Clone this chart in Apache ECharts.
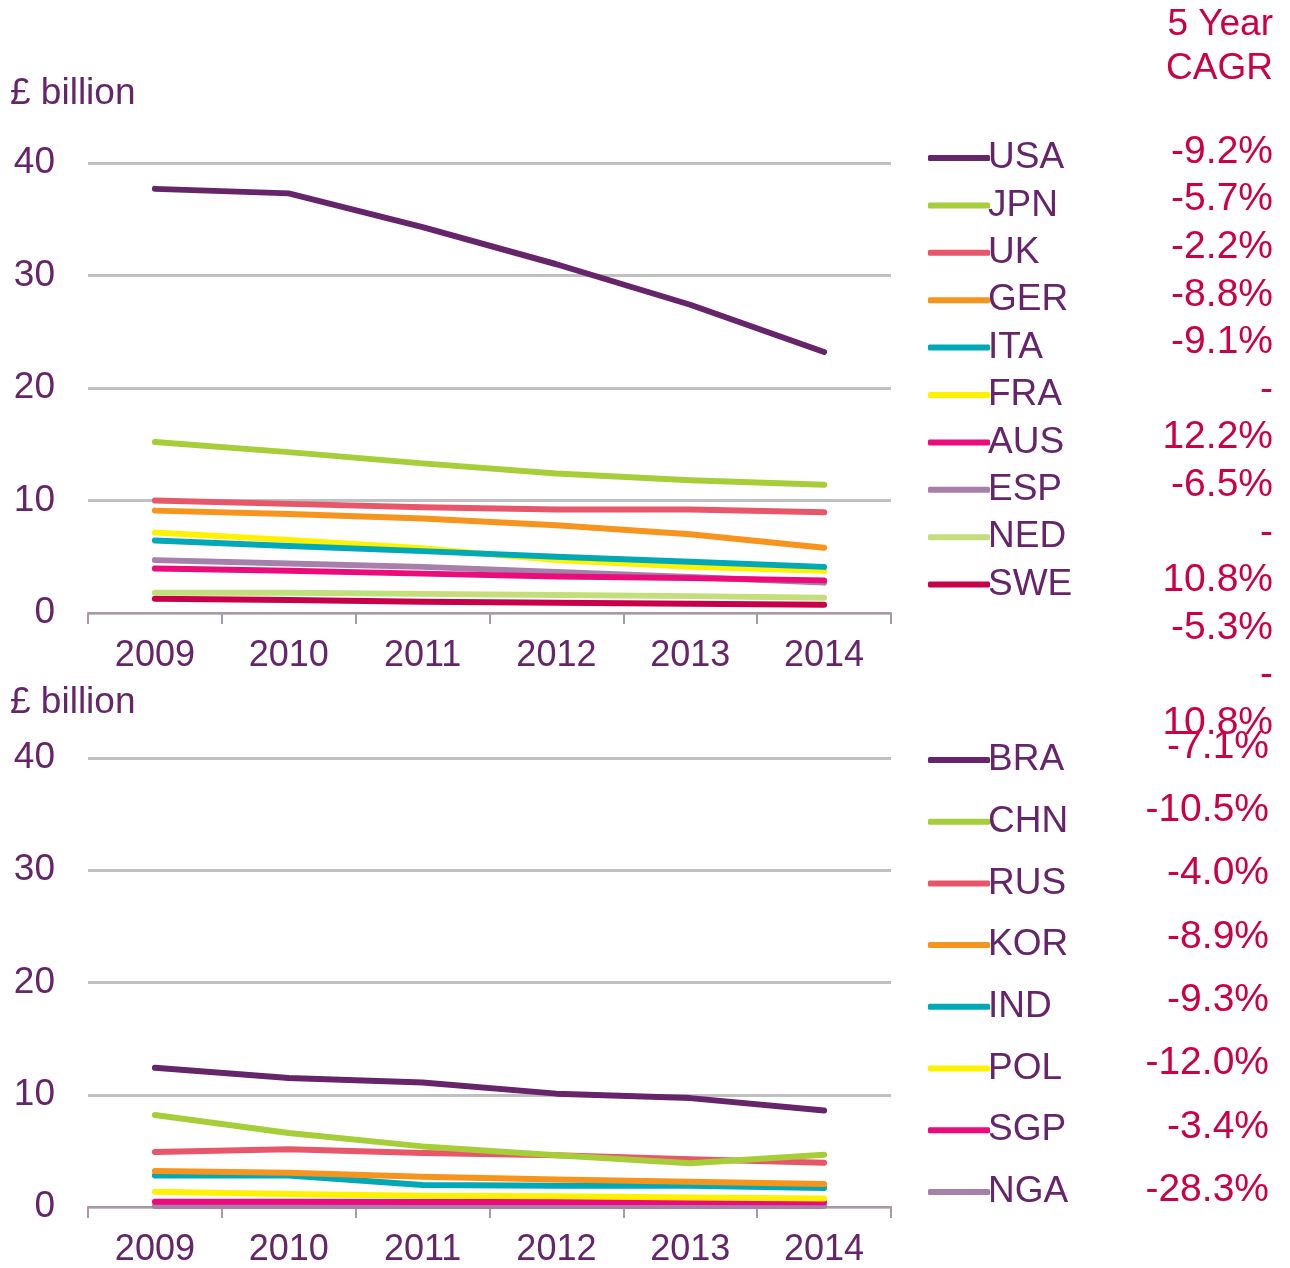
<!DOCTYPE html>
<html>
<head>
<meta charset="utf-8">
<script src="https://cdn.jsdelivr.net/npm/echarts@6/dist/echarts.min.js"></script>
<style>
html,body{margin:0;padding:0;background:#fff;}
#c{width:1290px;height:1268px;}
</style>
</head>
<body>
<div id="c"></div>
<script>
// ---- data ----
const years = ['2009','2010','2011','2012','2013','2014'];
const yTicks = [0, 10, 20, 30, 40];

const topNames = ['USA','JPN','UK','GER','ITA','FRA','AUS','ESP','NED','SWE'];
const USA = [37.7, 37.3, 34.3, 31.0, 27.4, 23.2];
const JPN = [15.2, 14.3, 13.3, 12.4, 11.8, 11.4];
const UK  = [10.0, 9.7, 9.4, 9.2, 9.2, 8.95];
const GER = [9.1, 8.8, 8.4, 7.8, 7.0, 5.8];
const ITA = [6.45, 5.95, 5.5, 5.0, 4.55, 4.1];
const FRA = [7.15, 6.5, 5.75, 4.7, 4.1, 3.75];
const AUS = [3.95, 3.75, 3.5, 3.25, 3.1, 2.9];
const ESP = [4.7, 4.4, 4.1, 3.65, 3.2, 2.7];
const NED = [1.8, 1.8, 1.7, 1.6, 1.5, 1.35];
const SWE = [1.27, 1.15, 1.0, 0.92, 0.83, 0.74];

const bottomNames = ['BRA','CHN','RUS','KOR','IND','POL','SGP','NGA'];
const BRA = [12.4, 11.5, 11.1, 10.1, 9.7, 8.6];
const CHN = [8.2, 6.6, 5.4, 4.6, 3.9, 4.65];
const RUS = [4.9, 5.15, 4.8, 4.6, 4.25, 3.95];
const KOR = [3.2, 3.05, 2.7, 2.45, 2.25, 2.05];
const IND = [2.8, 2.8, 1.95, 1.9, 1.9, 1.7];
const POL = [1.35, 1.15, 1.0, 0.95, 0.85, 0.75];
const SGP = [0.47, 0.46, 0.45, 0.45, 0.44, 0.43];
const NGA = [0.1, 0.1, 0.1, 0.1, 0.1, 0.1];

const cagrTop = ['-9.2%','-5.7%','-2.2%','-8.8%','-9.1%','-','12.2%','-6.5%','-','10.8%','-5.3%','-','10.8%'];
const cagrBottom = ['-7.1%','-10.5%','-4.0%','-8.9%','-9.3%','-12.0%','-3.4%','-28.3%'];
const cagrHeader = ['5 Year','CAGR'];
const unitLabel = '£ billion';

// ---- styles ----
const palette = ['#66246a','#a6ce39','#e8566a','#f7941d','#00a9b5','#fff200','#ec0b7a','#a67faa','#c3de7a','#c8004a'];
const textPurple = '#66246a';
const cagrColor = '#cc0044';
const FONT = 'Liberation Sans, Arial, sans-serif';

const topData = {USA, JPN, UK, GER, ITA, FRA, AUS, ESP, NED, SWE};
const bottomData = {BRA, CHN, RUS, KOR, IND, POL, SGP, NGA};

const grids = [
  {left: 88, right: 399, top: 163, height: 450},
  {left: 88, right: 399, top: 758, height: 450}
];

function xAxis(i){
  return {
    type:'category', gridIndex:i, data: years, boundaryGap:true,
    axisLine:{lineStyle:{color:'#a898a8', width:2}},
    axisTick:{show:true, length:11, inside:false, lineStyle:{color:'#a898a8', width:2}},
    axisLabel:{color:textPurple, fontSize:36, fontFamily:FONT, margin:25}
  };
}
function yAxis(i){
  return {
    type:'value', gridIndex:i, min:0, max:40, interval:10,
    axisLine:{show:false}, axisTick:{show:false},
    splitLine:{lineStyle:{color:'#c0c0c0', width:3}},
    axisLabel:{color:textPurple, fontSize:37, fontFamily:FONT, margin:33}
  };
}

const series = [];
topNames.forEach((n, k) => {
  series.push({name:n, type:'line', xAxisIndex:0, yAxisIndex:0, data: topData[n],
    symbol:'none', color: palette[k], lineStyle:{width:6, color: palette[k], cap:'round', join:'round'},
    z: 20 - k});
});
bottomNames.forEach((n, k) => {
  series.push({name:n, type:'line', xAxisIndex:1, yAxisIndex:1, data: bottomData[n],
    symbol:'none', color: palette[k], lineStyle:{width:6, color: palette[k], cap:'round', join:'round'},
    z: 20 - k});
});

const graphics = [];
graphics.push({type:'text', x:10, y:94, style:{text:unitLabel, fill:textPurple, fontSize:37, fontFamily:FONT, verticalAlign:'middle'}});
graphics.push({type:'text', x:10, y:703, style:{text:unitLabel, fill:textPurple, fontSize:37, fontFamily:FONT, verticalAlign:'middle'}});
cagrHeader.forEach((t, i) => {
  graphics.push({type:'text', x:1273, y:25 + i*44, style:{text:t, fill:cagrColor, fontSize:37, fontFamily:FONT, align:'right', verticalAlign:'middle'}});
});
cagrTop.forEach((t, i) => {
  graphics.push({type:'text', x:1273, y:152 + i*47.6, style:{text:t, fill:cagrColor, fontSize:39, fontFamily:FONT, align:'right', verticalAlign:'middle'}});
});
cagrBottom.forEach((t, i) => {
  graphics.push({type:'text', x:1269, y:747 + i*63.3, style:{text:t, fill:cagrColor, fontSize:39, fontFamily:FONT, align:'right', verticalAlign:'middle'}});
});

function legend(names, top, gap){
  return {
    data: names, orient:'vertical', left: 923, top: top,
    icon: 'roundRect',
    itemWidth: 62, itemHeight: 6, itemGap: gap,
    selectedMode:false,
    itemStyle:{borderWidth:0},
    textStyle:{color:textPurple, fontSize:37, fontFamily:FONT, padding:[0,0,0,-7], lineHeight:40, height:40}
  };
}

const option = {
  animation:false,
  backgroundColor:'#fff',
  grid: grids,
  xAxis: [xAxis(0), xAxis(1)],
  yAxis: [yAxis(0), yAxis(1)],
  legend: [legend(topNames, 133, 7.4), legend(bottomNames, 735, 21.7)],
  series: series,
  graphic: graphics
};

const chart = echarts.init(document.getElementById('c'), null, {renderer:'canvas'});
chart.setOption(option);
</script>
</body>
</html>
